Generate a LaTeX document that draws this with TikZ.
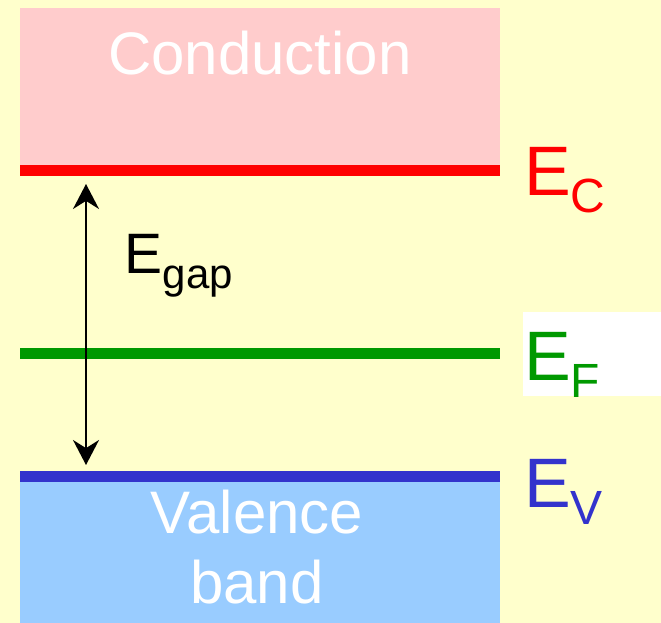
\documentclass[tikz,border=0pt]{standalone}
\usepackage{fontspec}
\setmainfont{Liberation Sans}
\usetikzlibrary{arrows.meta}
\definecolor{bgc}{HTML}{FFFFCC}
\definecolor{pinkc}{HTML}{FFCCCC}
\definecolor{lbluec}{HTML}{99CCFF}
\definecolor{redc}{HTML}{FF0000}
\definecolor{greenc}{HTML}{009900}
\definecolor{bluec}{HTML}{3333CC}
\tikzset{
  level/.style={line width=11pt},
  bandtxt/.style={anchor=base, inner sep=0pt, text=white, font=\fontsize{60}{70}\selectfont},
  elabel/.style={anchor=base west, inner sep=0pt},
  gaparrow/.style={line width=2pt, {Stealth[length=25pt,width=26pt]}-{Stealth[length=25pt,width=26pt]}}
}
\begin{document}
\begin{tikzpicture}[x=1pt,y=-1pt]
\fill[bgc] (0,0) rectangle (661,623);
\useasboundingbox (0,0) rectangle (661,623);
\fill[white] (523,312) rectangle (661,396);
\fill[pinkc] (20,8) rectangle (500,170);
\fill[lbluec] (20,476) rectangle (500,623);
\coordinate (ecl) at (20,170.5);
\coordinate (ecr) at (500,170.5);
\coordinate (efl) at (20,353.5);
\coordinate (efr) at (500,353.5);
\coordinate (evl) at (20,476.5);
\coordinate (evr) at (500,476.5);
\draw[level, redc] (ecl) -- (ecr);
\draw[level, greenc] (efl) -- (efr);
\draw[level, bluec] (evl) -- (evr);
\node[bandtxt] (cond) at (260,75) {Conduction};
\node[bandtxt] (val) at (257,533) {Valence};
\node[bandtxt] (band) at (257,603) {band};
\node[elabel, text=redc] (ec) at (524,195) {\fontsize{70}{80}\selectfont E\raisebox{-17pt}{\fontsize{48}{56}\selectfont C}};
\node[elabel, text=greenc] (ef) at (524,380) {\fontsize{70}{80}\selectfont E\raisebox{-17pt}{\fontsize{48}{56}\selectfont F}};
\node[elabel, text=bluec] (ev) at (524,507) {\fontsize{70}{80}\selectfont E\raisebox{-17pt}{\fontsize{48}{56}\selectfont V}};
\node[elabel, text=black] (eg) at (124.5,273) {\fontsize{57}{66}\selectfont E\raisebox{-15pt}{\fontsize{42}{50}\selectfont gap}};
\coordinate (atop) at (86,184);
\coordinate (abot) at (86,465);
\draw[gaparrow] (atop) -- (abot);
\end{tikzpicture}
\end{document}
